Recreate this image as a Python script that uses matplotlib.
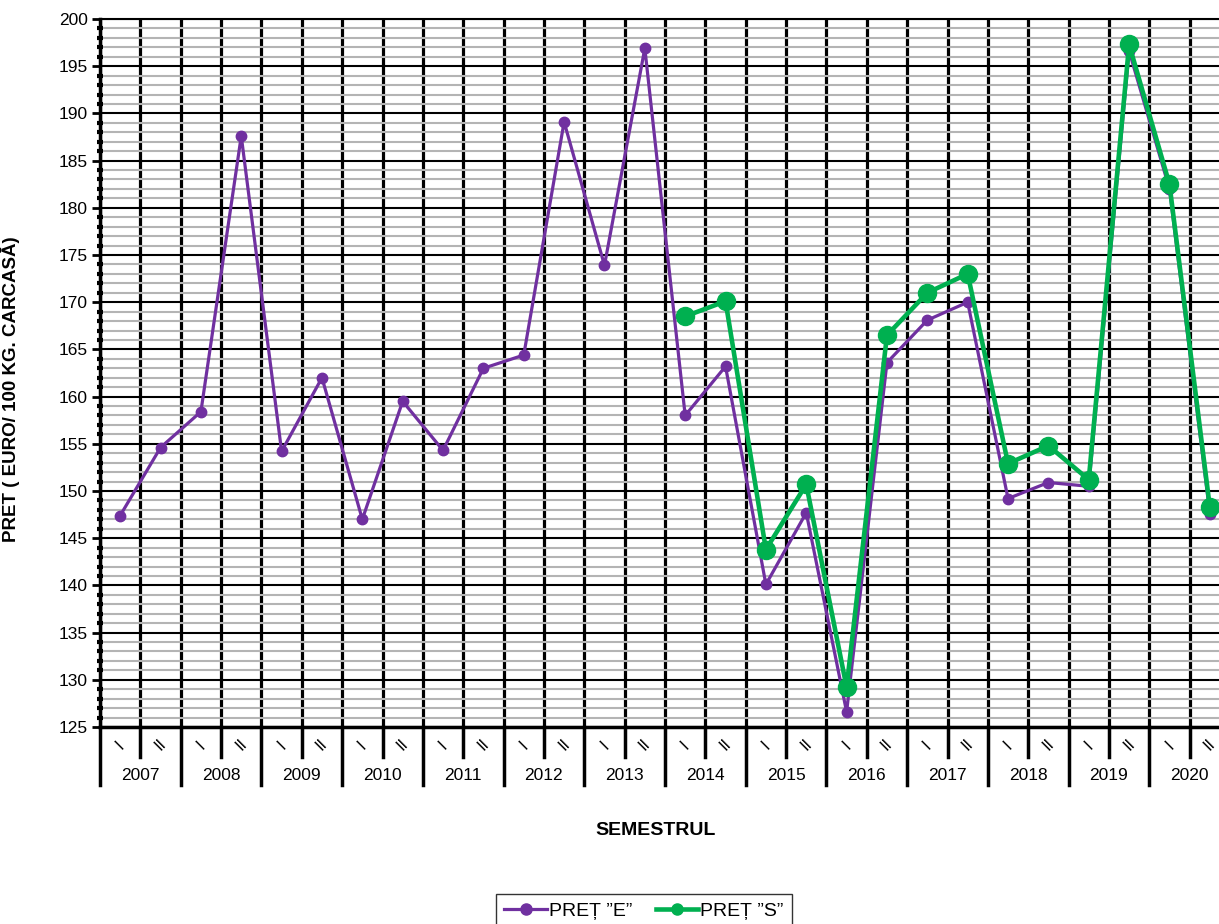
import matplotlib.pyplot as plt
from matplotlib.ticker import MultipleLocator
import matplotlib.transforms as mtransforms

plt.rcParams['font.family'] = ['Liberation Sans', 'DejaVu Sans']

years = ['2007', '2008', '2009', '2010', '2011', '2012', '2013',
         '2014', '2015', '2016', '2017', '2018', '2019', '2020']
semesters = ['I', 'II']

# pret "E" - one value per semester, 2007 I .. 2020 II
pret_e = [147.4, 154.6, 158.4, 187.6, 154.2, 162.0, 147.0, 159.5, 154.3, 163.0,
          164.4, 189.1, 173.9, 196.9, 158.0, 163.2, 140.1, 147.7, 126.6, 163.6,
          168.1, 170.0, 149.2, 150.9, 150.5, 196.6, 182.0, 147.6]
# pret "S" - starts in 2014
pret_s = [None] * 14 + [168.5, 170.1, 143.8, 150.7, 129.2, 166.5,
                        171.0, 173.0, 152.9, 154.8, 151.2, 197.3, 182.5, 148.3]

purple = '#7030A0'
green = '#00B050'

n = len(pret_e)
xs = list(range(n))

fig = plt.figure(figsize=(12.19, 9.24), dpi=100)
ax = fig.add_axes([100 / 1219, 197 / 924, 1130 / 1219, 708 / 924])

ax.set_xlim(-0.5, n - 0.5)
ax.set_ylim(125, 200)

# horizontal grid
ax.yaxis.set_major_locator(MultipleLocator(5))
ax.yaxis.set_minor_locator(MultipleLocator(1))
ax.grid(which='minor', axis='y', color='#b4b4b4', lw=1.5, zorder=0)
ax.grid(which='major', axis='y', color='black', lw=1.5, zorder=1)

# vertical separators between semesters
for k in range(n + 1):
    ax.axvline(k - 0.5, color='black', lw=2.3, zorder=1)

# data
xe = [x for x, v in zip(xs, pret_e) if v is not None]
ye = [v for v in pret_e if v is not None]
xs_s = [x for x, v in zip(xs, pret_s) if v is not None]
ys_s = [v for v in pret_s if v is not None]
ax.plot(xe, ye, color=purple, lw=2.3, marker='o', ms=7.5, label='PREȚ ”E”', zorder=3)
ax.plot(xs_s, ys_s, color=green, lw=3.3, marker='o', ms=13, label='PREȚ ”S”', zorder=4)

# axes styling
for side in ['left', 'bottom']:
    ax.spines[side].set_linewidth(2.5)
ax.spines['top'].set_linewidth(1.5)
ax.spines['right'].set_visible(False)
ax.tick_params(axis='y', which='major', direction='out', length=6, width=2,
               labelsize=12.5, pad=3)
ax.tick_params(axis='y', which='minor', direction='inout', length=5, width=3)

# x axis: semester labels + year labels drawn below
ax.set_xticks([])
trans = mtransforms.blended_transform_factory(ax.transData, ax.transAxes)
for k in range(n + 1):
    depth = -58 / 708 if k % 2 == 0 else -30 / 708
    ax.plot([k - 0.5, k - 0.5], [0, depth], color='black', lw=2.5,
            transform=trans, clip_on=False)
for i in range(n):
    ax.text(i, -18 / 708, semesters[i % 2], transform=trans, rotation=45,
            ha='center', va='center', fontsize=11.5)
for j, yr in enumerate(years):
    ax.text(2 * j + 0.5, -48 / 708, yr, transform=trans, ha='center',
            va='center', fontsize=12.5)

ax.set_xlabel('SEMESTRUL', fontsize=14, fontweight='bold')
ax.xaxis.set_label_coords(556 / 1130, -95 / 708)
ax.set_ylabel('PRET ( EURO/ 100 KG. CARCASĂ)', fontsize=13.5, fontweight='bold')
ax.yaxis.set_label_coords(-80 / 1130, 338 / 708)

leg = fig.legend(loc='center', bbox_to_anchor=(644 / 1219, 1 - 911 / 924), ncol=2,
                 frameon=True, fancybox=False, edgecolor='black', fontsize=14,
                 handlelength=2.2, columnspacing=1.2, handletextpad=0.1,
                 borderpad=0.4)
for h in leg.legend_handles:
    h.set_markersize(8)

fig.savefig('out.png', dpi=100)
